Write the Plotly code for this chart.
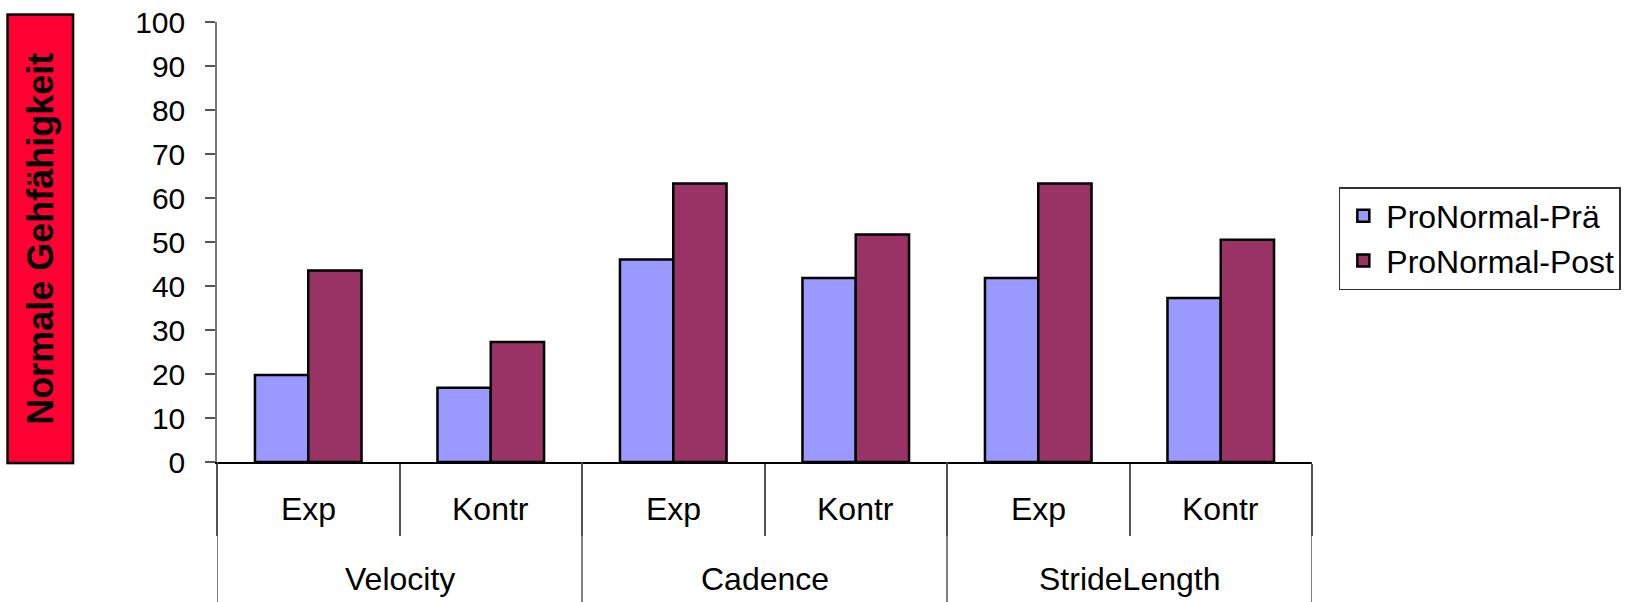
import plotly.graph_objects as go

# Gait measures, two groups per measure
groups = ["Velocity", "Cadence", "StrideLength"]
subgroups = ["Exp", "Kontr"]
pre_values = [19.8, 16.9, 46.0, 41.8, 41.8, 37.3]
post_values = [43.5, 27.3, 63.3, 51.7, 63.3, 50.5]
series_names = ["ProNormal-Prä", "ProNormal-Post"]
y_ticks = [0, 10, 20, 30, 40, 50, 60, 70, 80, 90, 100]

FONT = "Liberation Sans, Arial, sans-serif"
PRE_COLOR = "#9999FF"
POST_COLOR = "#993366"

n_cat = len(groups) * len(subgroups)
cat_pos = list(range(n_cat))

fig = go.Figure()
fig.add_trace(go.Bar(
    x=cat_pos, y=pre_values, name=series_names[0],
    marker=dict(color=PRE_COLOR, line=dict(color="black", width=2.5)),
))
fig.add_trace(go.Bar(
    x=cat_pos, y=post_values, name=series_names[1],
    marker=dict(color=POST_COLOR, line=dict(color="black", width=2.5)),
))

px_per_paper = 440.6  # plot height in px


def below(px):
    return -px / px_per_paper


annotations = []
shapes = []

# inner category labels
for i in range(n_cat):
    annotations.append(dict(
        x=i, y=below(47), xref="x", yref="paper",
        text=subgroups[i % len(subgroups)], showarrow=False,
        font=dict(family=FONT, size=32, color="black"),
        xanchor="center", yanchor="middle",
    ))

# outer group labels and long dividers
for g, name in enumerate(groups):
    center = g * len(subgroups) + (len(subgroups) - 1) / 2
    annotations.append(dict(
        x=center, y=below(117), xref="x", yref="paper",
        text=name, showarrow=False,
        font=dict(family=FONT, size=32, color="black"),
        xanchor="center", yanchor="middle",
    ))

for g in range(len(groups) + 1):
    xb = g * len(subgroups) - 0.5
    shapes.append(dict(
        type="line", xref="x", yref="paper",
        x0=xb, x1=xb, y0=0, y1=below(145),
        line=dict(color="#555555", width=1.5),
    ))

# y-axis title box
annotations.append(dict(
    x=(40.3 - 217) / 1095, y=(462.3 - 239) / 440.6,
    xref="paper", yref="paper",
    text="<b>Normale Gehfähigkeit</b>", showarrow=False, textangle=-90,
    font=dict(family=FONT, size=36, color="black"),
    bgcolor="#FF0033", bordercolor="black", borderwidth=2.5,
    width=444, height=61,
    xanchor="center", yanchor="middle",
))

fig.update_layout(
    width=1634, height=602,
    margin=dict(l=217, r=322, t=22, b=140, autoexpand=False),
    paper_bgcolor="white", plot_bgcolor="white",
    barmode="group", bargap=0.416, bargroupgap=0,
    font=dict(family=FONT, size=30, color="black"),
    showlegend=True,
    legend=dict(
        x=1.0245, y=0.625, xanchor="left", yanchor="top",
        font=dict(family=FONT, size=32, color="black"),
        bordercolor="#333333", borderwidth=1.5, bgcolor="white",
        tracegroupgap=0, itemwidth=36,
    ),
    xaxis=dict(
        range=[-0.5, n_cat - 0.5],
        tickmode="array",
        tickvals=[i - 0.5 for i in range(n_cat + 1)],
        ticktext=[""] * (n_cat + 1),
        showticklabels=False,
        ticks="outside", ticklen=72, tickwidth=1.5, tickcolor="#555555",
        showline=True, linecolor="black", linewidth=1.5,
        showgrid=False, zeroline=False, automargin=False,
    ),
    yaxis=dict(
        range=[0, 100],
        tickmode="array", tickvals=y_ticks,
        ticks="outside", ticklen=10, tickwidth=1.5, tickcolor="#555555",
        tickfont=dict(family=FONT, size=30, color="black"),
        ticklabelstandoff=14,
        showline=True, linecolor="#777777", linewidth=1.5,
        showgrid=False, zeroline=False, automargin=False,
    ),
    annotations=annotations,
    shapes=shapes,
)

fig.write_html("out.html")
